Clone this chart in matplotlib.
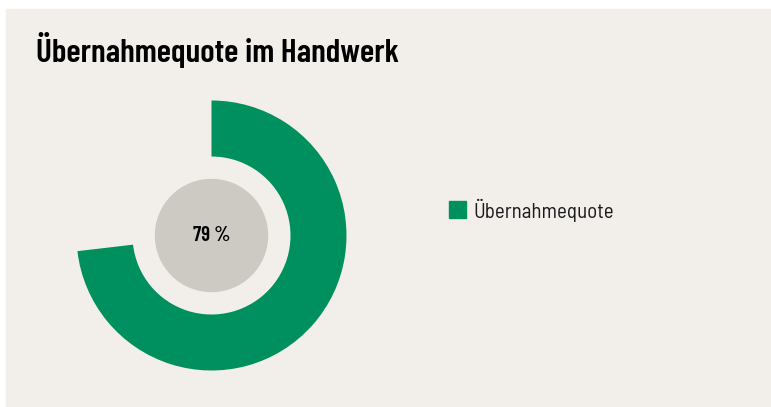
import matplotlib
matplotlib.use("Agg")
import matplotlib.pyplot as plt
from matplotlib.patches import Rectangle, Circle

# data
title = "Übernahmequote im Handwerk"
label = "Übernahmequote"
quote = 79          # shown in the centre
rest = 29           # invisible remainder

green = "#00905f"
bg = "#f2eeea"
grey = "#cdcac3"
narrow = ["Barlow Semi Condensed", "DejaVu Sans"]
cond = ["Barlow Condensed", "DejaVu Sans"]

W, H = 771, 407
fig = plt.figure(figsize=(W / 100, H / 100), dpi=100)
fig.patch.set_facecolor("white")
fig.patches.append(Rectangle((6 / W, 1 / H), 1 - 6 / W, 397 / H,
                             transform=fig.transFigure, color=bg, zorder=-5))

fig.text(36 / W, 1 - 50 / H, title, fontsize=24, fontweight=600,
         family=cond, va="center", ha="left")

# donut
cx, cy, r = 211.5, 407 - 235.5, 135
ax = fig.add_axes([(cx - r) / W, (cy - r) / H, 2 * r / W, 2 * r / H])
ax.set_facecolor("none")
ax.pie([quote, rest], colors=[green, "none"], startangle=90, counterclock=False,
       radius=1, wedgeprops=dict(width=56 / 135, linewidth=0))
ax.add_patch(Circle((0, 0), 56 / 135, color=grey, zorder=3))
ax.text(0, 0, f"{quote} %", ha="center", va="center", fontsize=15,
        fontweight=600, family=cond, zorder=4)
ax.set_xlim(-1, 1)
ax.set_ylim(-1, 1)
ax.set_aspect("equal")
ax.axis("off")

# legend
fig.patches.append(Rectangle((449 / W, 1 - 218 / H), 17 / W, 17 / H,
                             transform=fig.transFigure, color=green, zorder=2))
fig.text(473 / W, 1 - 210 / H, label, fontsize=15, family=narrow,
         va="center", ha="left", color="#1a1a1a")

fig.savefig("out.png", dpi=100, facecolor=fig.get_facecolor())
